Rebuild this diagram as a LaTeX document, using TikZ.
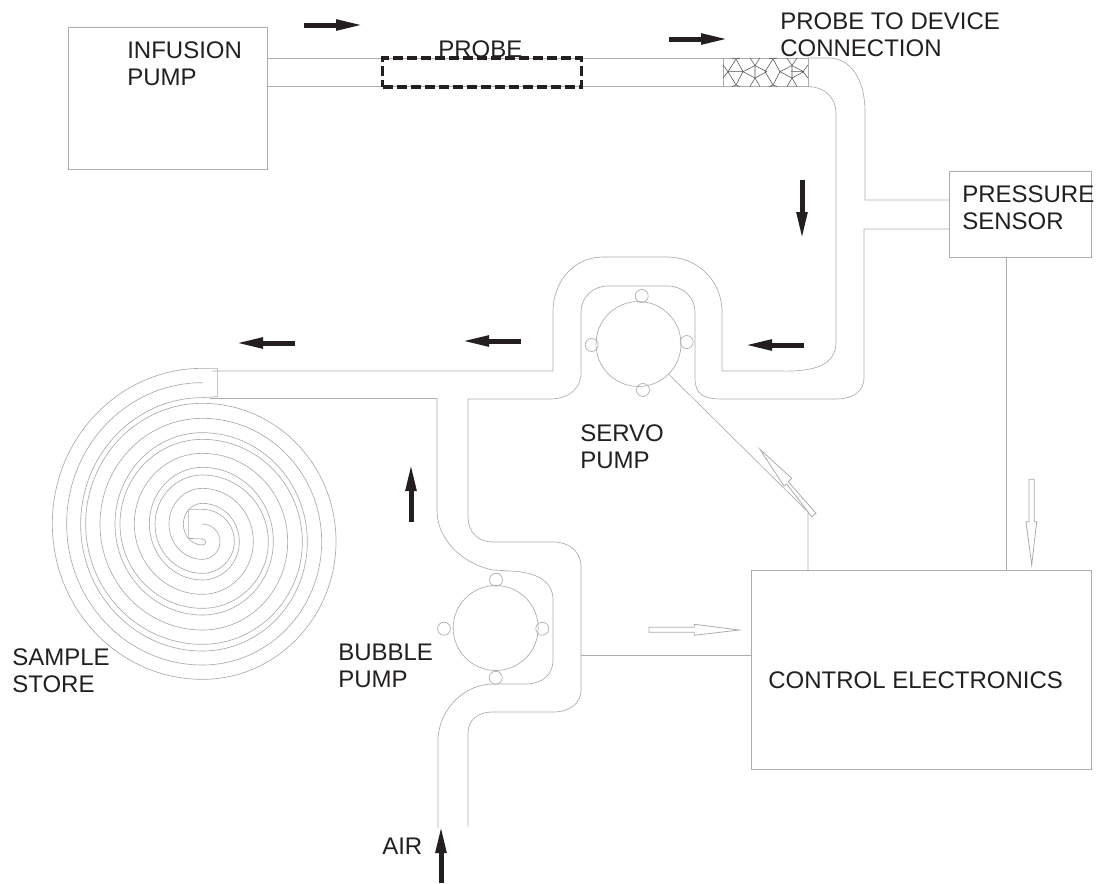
\documentclass[tikz,border=0pt]{standalone}
\usepackage{fontspec}
\setmainfont{Liberation Sans}
\usetikzlibrary{arrows.meta, calc}
\definecolor{inkdark}{HTML}{231F20}
\tikzset{
  pipe/.style={gray!65, line width=0.5pt, line cap=round},
  mesh/.style={inkdark!80, line width=0.4pt},
  box/.style={draw=gray!65, line width=0.5pt, rectangle, inner sep=0, outer sep=0},
  rotor/.style={draw=gray!65, line width=0.5pt, circle, inner sep=0, outer sep=0, minimum size=63.75pt},
  roller/.style={draw=gray!65, line width=0.5pt, circle, inner sep=0, outer sep=0, minimum size=9.75pt},
  flow/.style={inkdark, line width=3.75pt, -{Triangle[length=21pt, width=7.5pt]}, shorten >=-3pt},
  signal/.style={gray!65, line width=0.6pt, fill=white, line join=miter},
  label/.style={text=inkdark, anchor=west, inner sep=0, align=left, font=\fontsize{18}{20.4}\selectfont}
}
\begin{document}
\begin{tikzpicture}[x=0.75pt, y=-0.75pt]
\useasboundingbox (0,0) rectangle (1097,883);
% boxes
\node[box, minimum width=149.25pt, minimum height=106.5pt] (infusion) at (167.5,98) {};
\node[box, minimum width=106.5pt, minimum height=64.5pt] (sensor) at (1020,214) {};
\node[box, minimum width=255pt, minimum height=149.25pt] (control) at (921,669.5) {};
% pumps
\node[rotor] (servo) at (638.5,344) {};
\node[rotor] (bubble) at (495.7,628) {};
\foreach \n/\p/\q in {1/641.7/296, 2/686.7/342, 3/643/390, 4/591.7/345} {
  \node[roller] (servoroll\n) at (\p,\q) {};
}
\foreach \n/\p/\q in {1/496/579.7, 2/542.3/628.7, 3/495.7/677.7, 4/444/628.7} {
  \node[roller] (bubbleroll\n) at (\p,\q) {};
}
% top run of tube, probe and connector
\draw[pipe] (infusion.east |- 0,58) -- (723,58);
\draw[pipe] (infusion.east |- 0,86.5) -- (723,86.5);
\node[draw=inkdark, line width=2.8pt, dash pattern=on 7.5pt off 3pt, inner sep=0, minimum width=149.25pt, minimum height=21.5pt] (probe) at (482,72.5) {};
\draw[pipe] (723,58) rectangle (808,86.5);
\foreach \p in {0,37} {
  \draw[mesh] (728+\p,71.7) -- (736+\p,59) -- (743+\p,71.7) -- (736+\p,85) -- cycle;
  \draw[mesh] (736+\p,59) -- (732+\p,58) (736+\p,59) -- (740+\p,58) (736+\p,85) -- (732+\p,86.5) (736+\p,85) -- (740+\p,86.5);
  \draw[mesh] (743+\p,71.7) -- (755+\p,65.5) -- (766.7+\p,71.7) -- (755+\p,78) -- cycle;
  \draw[mesh] (755+\p,65.5) -- (755+\p,78) (755+\p,65.5) -- (750+\p,58) (755+\p,65.5) -- (760+\p,58) (755+\p,78) -- (750+\p,86.5) (755+\p,78) -- (760+\p,86.5);
}
\draw[mesh] (723,65) -- (728,71.7) -- (723,78) (728,71.7) -- (743,71.7);
\draw[mesh] (803,71.7) -- (808,65) (803,71.7) -- (808,78) (803,71.7) -- (791,71.7);
% outer wall of tube
\coordinate (sensorup) at (sensor.west |- 0,200);
\coordinate (sensorlow) at (sensor.west |- 0,229);
\draw[pipe] (808,58) -- (828,58) .. controls (850,58) and (865,78) .. (865,112) -- (865,200) -- (sensorup);
\draw[pipe] (sensorlow) -- (864,229) -- (864,378) .. controls (864,390) and (855,399) .. (835,399) -- (722,399)
  .. controls (704,399) and (695,395) .. (695,378) -- (695,312) .. controls (695,298) and (684,286) .. (667,286)
  -- (608,286) .. controls (592,286) and (581,298) .. (581,312) -- (581,373) .. controls (581,389) and (568,399) .. (550,399)
  -- (468,399) -- (468,517) .. controls (468,532) and (478,542) .. (493,542) -- (553,542)
  .. controls (570,542) and (581,552) .. (581,567) -- (581,690) .. controls (581,703) and (570,712) .. (553,712)
  -- (492,712) .. controls (478,712) and (468,720) .. (468,733) -- (468,826);
% inner wall of tube
\draw[pipe] (438,828) -- (438,738) .. controls (440,708) and (465,684) .. (493,684) -- (525,684)
  .. controls (542,684) and (553,675) .. (553,660) -- (553,600) .. controls (553,580) and (535,572) .. (510,571)
  -- (493,570) .. controls (470,566) and (437,545) .. (437,510) -- (437,398.5) -- (210,398.5);
\draw[pipe] (212,371) -- (553,371) -- (553,312) .. controls (553,280) and (575,257) .. (603,257) -- (667,257)
  .. controls (697,257) and (722,280) .. (722,312) -- (722,371) -- (780,371) .. controls (815,372) and (836,365) .. (836,342)
  -- (836,113) .. controls (836,98) and (825,87) .. (808,86.5);
% sample store spiral
\begin{scope}[shift={(40,350)}, x=0.25pt, y=-0.25pt]
\foreach \t/\e/\b in {55/37/988, 988/888/160, 160/137/883, 883/787/268, 268/240/775, 775/685/375, 375/345/670, 670/583/478,
  98/80/945, 945/845/205, 205/180/840, 840/743/310, 310/283/733, 733/640/415, 415/387/628, 628/540/522,
  143/122/903, 903/802/248, 248/225/795, 795/700/352, 352/328/690, 690/598/460, 460/430/585} {
  \pgfmathsetmacro\m{(\t+\b)/2}
  \pgfmathsetmacro\ca{487+.5523*(\e-487)}
  \pgfmathsetmacro\cb{\m+.5523*(\t-\m)}
  \pgfmathsetmacro\cc{\m+.5523*(\b-\m)}
  \draw[pipe] (487,\t) .. controls (\ca,\t) and (\e,\cb) .. (\e,\m) .. controls (\e,\cc) and (\ca,\b) .. (487,\b);
}
\draw[pipe] (487,55) -- (532,55) -- (532,140) -- (487,143);
\draw[pipe] (487,478) -- (445,478) -- (445,565) -- (487,567) .. controls (500,567) and (500,585) .. (487,585);
\end{scope}
% signal lines
\coordinate (servoelbow) at (808,512);
\coordinate (sensorout) at (1006,257);
\coordinate (bubbleout) at (581,655);
\draw[pipe] (servo.-45) -- (servoelbow) -- (servoelbow |- control.north);
\draw[pipe] (sensorout) -- (sensorout |- control.north);
\draw[pipe] (bubbleout) -- (bubbleout -| control.west);
% hollow signal arrows
\draw[signal] (760,449.3) -- (791.7,478.3) -- (788.3,481.7) -- (816,513.3) -- (811.7,516.7) -- (786.7,484) -- (784,486) -- cycle;
\draw[signal] (1029,479.3) -- (1034.3,479.3) -- (1034.3,521.7) -- (1036.7,521.7) -- (1031.7,565) -- (1026,521.7) -- (1029,521.7) -- cycle;
\draw[signal] (649,627.3) -- (694.3,627.3) -- (694.3,624.3) -- (739.3,630) -- (694.3,635.3) -- (694.3,632.3) -- (649,632.3) -- cycle;
% flow arrows
\coordinate (f1a) at (304,25); \coordinate (f1b) at (360,25);
\coordinate (f2a) at (669,39); \coordinate (f2b) at (725,39);
\coordinate (f3a) at (802,180); \coordinate (f3b) at (802,236);
\coordinate (f4a) at (804,345); \coordinate (f4b) at (748,345);
\coordinate (f5a) at (521,341); \coordinate (f5b) at (465,341);
\coordinate (f6a) at (295,343); \coordinate (f6b) at (239,343);
\coordinate (f7a) at (411,522); \coordinate (f7b) at (411,467);
\coordinate (f8a) at (441,883); \coordinate (f8b) at (441,829);
\foreach \n in {1,...,8} {
  \draw[flow] (f\n a) -- (f\n b);
}
% labels
\node[label] (infusionlabel) at (127,63.5) {INFUSION\\PUMP};
\node[label] (probelabel) at (438,49) {PROBE};
\node[label] (connlabel) at (780,34.5) {PROBE TO DEVICE\\CONNECTION};
\node[label] (sensorlabel) at (962,207.5) {PRESSURE\\SENSOR};
\node[label] (servolabel) at (580,446.5) {SERVO\\PUMP};
\node[label] (samplelabel) at (12,670.5) {SAMPLE\\STORE};
\node[label] (bubblelabel) at (338,665.5) {BUBBLE\\PUMP};
\node[label] (controllabel) at (768,680) {CONTROL ELECTRONICS};
\node[label] (airlabel) at (382,846) {AIR};
\end{tikzpicture}
\end{document}
